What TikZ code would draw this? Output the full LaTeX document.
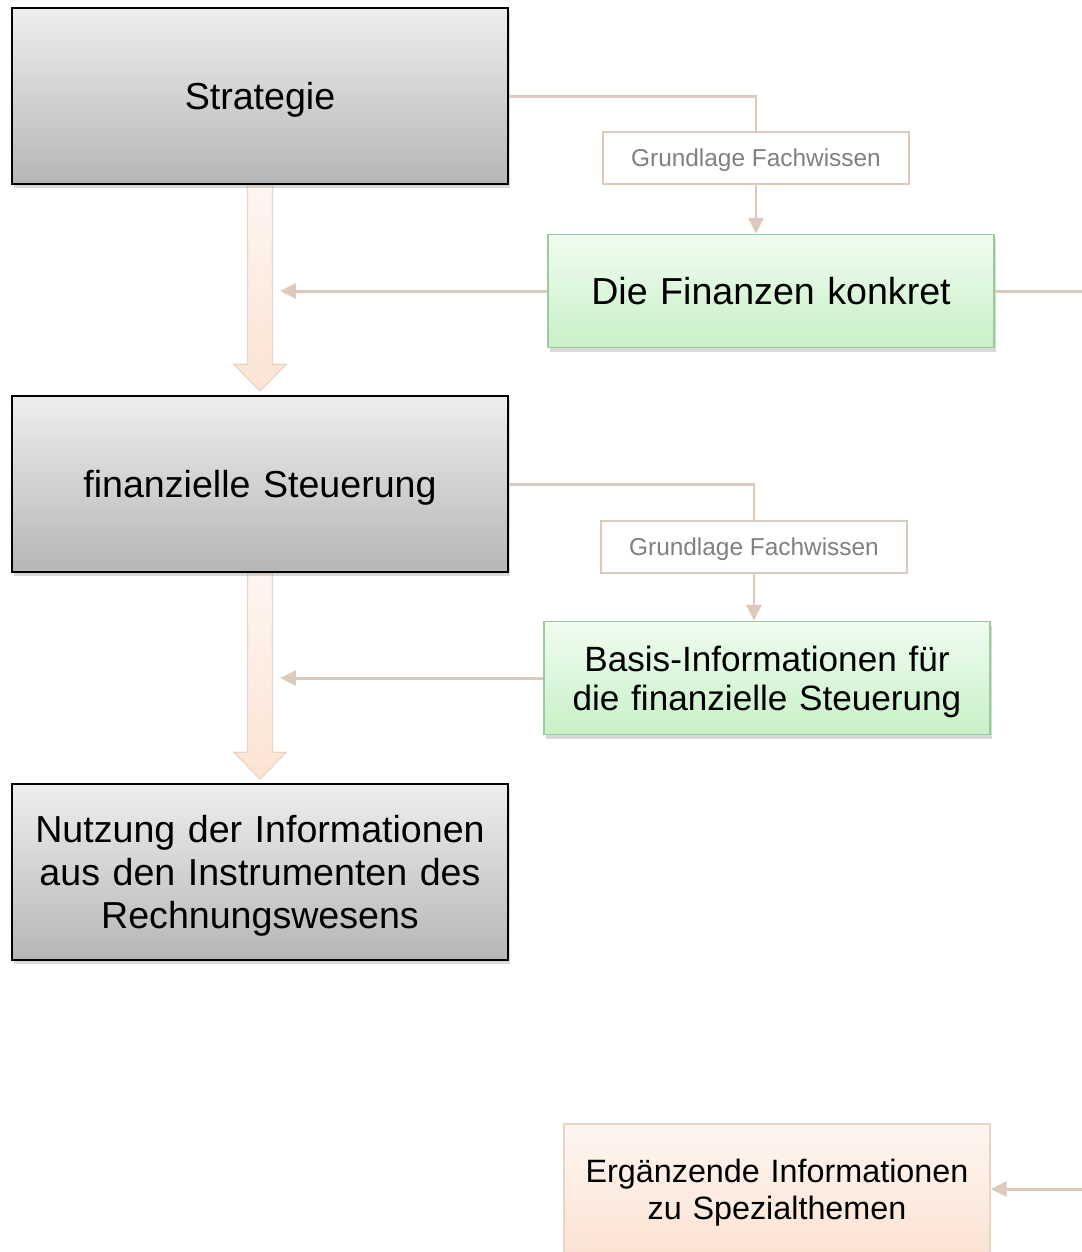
\documentclass[tikz,border=0pt]{standalone}
\usepackage{fontspec}
\setmainfont{Liberation Sans}
\usetikzlibrary{arrows.meta, calc, shadows}

\definecolor{grayTop}{HTML}{EEEEEE}
\definecolor{grayBot}{HTML}{B6B6B6}
\definecolor{greenTop}{HTML}{F0FCF0}
\definecolor{greenBot}{HTML}{C8F0C8}
\definecolor{greenLine}{HTML}{99CC99}
\definecolor{peachTop}{HTML}{FEF6F1}
\definecolor{peachBot}{HTML}{FBE3D3}
\definecolor{peachLine}{HTML}{E8D5C7}
\definecolor{connTan}{HTML}{DDCABC}
\definecolor{noteGray}{HTML}{808080}

\pgfdeclarelayer{background}
\pgfsetlayers{background,main}

\begin{document}
\begin{tikzpicture}[x=0.02cm, y=-0.02cm,
    stage/.style={draw=black, line width=0.9pt, top color=grayTop, bottom color=grayBot,
        minimum width=9.92cm, minimum height=3.52cm, text width=9.5cm, align=center,
        inner sep=2pt, text depth=0pt, font=\fontsize{21.4}{24.5}\selectfont,
        drop shadow={shadow xshift=1pt, shadow yshift=-2.5pt, opacity=0.3}},
    knowhow/.style={draw=greenLine, line width=0.9pt, top color=greenTop, bottom color=greenBot,
        minimum width=8.92cm, minimum height=2.26cm, text width=8.6cm, align=center,
        inner sep=2pt, text depth=0pt, font=\fontsize{21.4}{24.5}\selectfont,
        drop shadow={shadow xshift=1pt, shadow yshift=-2.5pt, opacity=0.3}},
    basis/.style={draw=connTan, line width=1.1pt, fill=white, text=noteGray,
        minimum width=6.12cm, minimum height=1.04cm, inner sep=2pt, text depth=0pt,
        font=\fontsize{13.9}{16}\selectfont},
    extra/.style={draw=peachLine, line width=0.9pt, top color=peachTop, bottom color=peachBot,
        minimum width=8.52cm, minimum height=2.6cm, text width=8.3cm, align=center,
        inner sep=2pt, text depth=21pt, font=\fontsize{18.4}{21}\selectfont},
    bigarrow/.style={draw=peachLine, line width=0.6pt, top color=peachTop, bottom color=peachBot},
    conn/.style={draw=connTan, line width=1.7pt},
    connarrow/.style={conn, -{Triangle[length=9pt, width=8.5pt]}}]

    \useasboundingbox (0,0) rectangle (1082,1252);

    % Main column
    \node[stage] (strat) at (260,96) {Strategie};
    \node[stage] (steer) at (260,484) {finanzielle Steuerung};
    \node[stage, text depth=49pt] (use) at (260,872) {Nutzung der Informationen\\aus den Instrumenten des\\Rechnungswesens};

    % Side column
    \node[basis] (gw1) at (756,158) {Grundlage Fachwissen};
    \node[knowhow] (fin) at (771,291) {Die Finanzen konkret};
    \node[basis] (gw2) at (754,547) {Grundlage Fachwissen};
    \node[knowhow, text depth=22.4pt, font=\fontsize{20}{22.4}\selectfont] (info) at (767,678) {Basis-Informationen für\\die finanzielle Steuerung};
    \node[extra] (more) at (777,1189) {Ergänzende Informationen\\zu Spezialthemen};

    % Block arrows between the main boxes
    \begin{pgfonlayer}{background}
    \foreach \src/\dst in {strat/steer, steer/use} {
        \path[bigarrow] ($(\src.south)+(-12.5,0)$) -- ($(\dst.north)+(-12.5,-31)$)
            -- ($(\dst.north)+(-26.5,-31)$) -- ($(\dst.north)+(0,-4)$)
            -- ($(\dst.north)+(26.5,-31)$) -- ($(\dst.north)+(12.5,-31)$)
            -- ($(\src.south)+(12.5,0)$) -- cycle;
    }
    \end{pgfonlayer}

    % Connectors
    \coordinate (tipA) at ($(strat.south)+(20,0)$);
    \coordinate (tipB) at ($(steer.south)+(20,0)$);
    \draw[conn] (strat.east) -| (gw1.north);
    \draw[connarrow] (gw1.south) -- (gw1.south |- fin.north);
    \draw[connarrow] (fin.west) -- (fin.west -| tipA);
    \draw[connarrow] (fin.east) -- ++(90,0) |- (more.east);

    \draw[conn] (steer.east) -| (gw2.north);
    \draw[connarrow] (gw2.south) -- (gw2.south |- info.north);
    \draw[connarrow] (info.west) -- (info.west -| tipB);
\end{tikzpicture}
\end{document}
